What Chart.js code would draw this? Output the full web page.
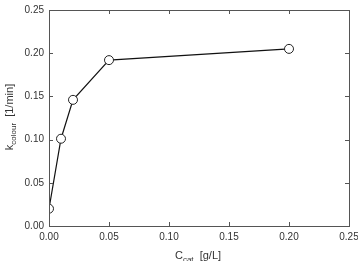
<!DOCTYPE html>
<html>
<head>
<meta charset="utf-8">
<script src="https://cdn.jsdelivr.net/npm/chart.js@4/dist/chart.umd.min.js"></script>
<style>
  html, body { margin: 0; padding: 0; background: #fff; }
  #wrap { width: 358px; height: 261px; }
</style>
</head>
<body>
<div id="wrap"><canvas id="chart" width="358" height="261"></canvas></div>
<script>
// catalyst concentration [g/L] and rate constant [1/min]
const cCat = [0, 0.01, 0.02, 0.05, 0.2];
const kColour = [0.02, 0.101, 0.146, 0.192, 0.205];
const tickValues = [0, 0.05, 0.1, 0.15, 0.2, 0.25];

const axisColor = '#555';
const textColor = '#333';
const font = 'Liberation Sans, Arial, sans-serif';

// frame, inward ticks and subscripted axis titles
const framePlugin = {
  id: 'frame',
  afterDraw(chart) {
    const { ctx, chartArea: a, scales } = chart;
    ctx.save();
    ctx.strokeStyle = axisColor;
    ctx.lineWidth = 1;
    ctx.strokeRect(a.left + 0.5, a.top + 0.5, a.right - a.left, a.bottom - a.top);
    ctx.beginPath();
    tickValues.forEach((v) => {
      const x = Math.round(scales.x.getPixelForValue(v)) + 0.5;
      ctx.moveTo(x, a.bottom); ctx.lineTo(x, a.bottom - 4);
      ctx.moveTo(x, a.top); ctx.lineTo(x, a.top + 4);
      const y = Math.round(scales.y.getPixelForValue(v)) + 0.5;
      ctx.moveTo(a.left, y); ctx.lineTo(a.left + 4, y);
      ctx.moveTo(a.right, y); ctx.lineTo(a.right - 4, y);
    });
    ctx.stroke();

    ctx.fillStyle = textColor;
    ctx.textBaseline = 'alphabetic';
    const measure = (main, sub, rest, size) => {
      ctx.font = size + 'px ' + font;
      const w1 = ctx.measureText(main).width;
      ctx.font = (size - 3) + 'px ' + font;
      const w2 = ctx.measureText(sub).width;
      ctx.font = size + 'px ' + font;
      const w3 = ctx.measureText(rest).width;
      return { w1, w2, w3, total: w1 + w2 + w3 };
    };
    // x title: C_cat [g/L]
    let m = measure('C', 'cat', '  [g/L]', 11);
    let x0 = 198 - m.total / 2;
    const yb = 259;
    ctx.textAlign = 'left';
    ctx.font = '11px ' + font;
    ctx.fillText('C', x0, yb);
    ctx.font = '8px ' + font;
    ctx.fillText('cat', x0 + m.w1, yb + 3);
    ctx.font = '11px ' + font;
    ctx.fillText('  [g/L]', x0 + m.w1 + m.w2, yb);

    // y title: k_colour [1/min]
    m = measure('k', 'colour', '  [1/min]', 11);
    ctx.translate(13, 117);
    ctx.rotate(-Math.PI / 2);
    x0 = -m.total / 2;
    ctx.font = '11px ' + font;
    ctx.fillText('k', x0, 0);
    ctx.font = '8px ' + font;
    ctx.fillText('colour', x0 + m.w1, 3);
    ctx.font = '11px ' + font;
    ctx.fillText('  [1/min]', x0 + m.w1 + m.w2, 0);
    ctx.restore();
  }
};

new Chart(document.getElementById('chart'), {
  type: 'scatter',
  data: {
    datasets: [{
      data: cCat.map((c, i) => ({ x: c, y: kColour[i] })),
      showLine: true,
      borderColor: '#111',
      borderWidth: 1.2,
      pointRadius: 4.5,
      pointBackgroundColor: '#fff',
      pointBorderColor: '#222',
      pointBorderWidth: 1,
    }],
  },
  options: {
    responsive: false,
    animation: false,
    layout: { padding: { top: 10, right: 9, left: 0, bottom: 0 } },
    plugins: { legend: { display: false }, tooltip: { enabled: false } },
    scales: {
      x: {
        type: 'linear',
        min: 0,
        max: 0.25,
        afterBuildTicks: (s) => { s.ticks = tickValues.map((v) => ({ value: v })); },
        afterFit: (s) => { s.height = 35; s.paddingLeft = 0; s.paddingRight = 0; },
        grid: { display: false, drawTicks: false },
        border: { display: false },
        ticks: {
          padding: 5,
          color: textColor,
          font: { family: font, size: 10 },
          callback: (v) => v.toFixed(2),
          maxRotation: 0,
        },
      },
      y: {
        type: 'linear',
        min: 0,
        max: 0.25,
        afterBuildTicks: (s) => { s.ticks = tickValues.map((v) => ({ value: v })); },
        afterFit: (s) => { s.width = 49; s.paddingTop = 0; s.paddingBottom = 0; },
        grid: { display: false, drawTicks: false },
        border: { display: false },
        ticks: {
          padding: 5,
          color: textColor,
          font: { family: font, size: 10 },
          callback: (v) => v.toFixed(2),
        },
      },
    },
  },
  plugins: [framePlugin],
});
</script>
</body>
</html>
